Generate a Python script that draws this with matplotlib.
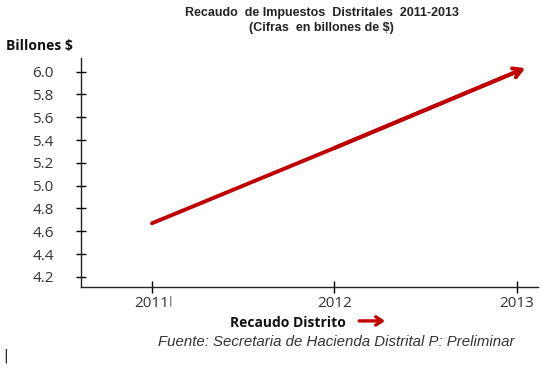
import matplotlib
matplotlib.use("Agg")
import matplotlib.pyplot as plt

years = [2011, 2012, 2013]
recaudo = [4.67, 5.33, 6.0]
yticks = [4.2, 4.4, 4.6, 4.8, 5.0, 5.2, 5.4, 5.6, 5.8, 6.0]

red = "#C00000"

fig = plt.figure(figsize=(5.5, 3.71), dpi=100)
ax = fig.add_axes([0.147, 0.226, 0.831, 0.618])

# line with open arrow head at the end
ax.plot(years, recaudo, color=red, lw=2.8, solid_capstyle="round")
ax.annotate("", xy=(years[-1] + 0.045, recaudo[-1] + 0.03), xytext=(years[-2], recaudo[-2]),
            arrowprops=dict(arrowstyle="->,head_length=0.6,head_width=0.35",
                            color=red, lw=2.8, shrinkA=0, shrinkB=0))

ax.set_xlim(2010.61, 2013.115)
ax.set_ylim(4.11, 6.12)
ax.set_xticks(years)
ax.set_xticklabels([str(y) for y in years])
ax.set_yticks(yticks)
ax.set_yticklabels([f"{v:.1f}" for v in yticks])

for s in ["top", "right"]:
    ax.spines[s].set_visible(False)
for s in ["left", "bottom"]:
    ax.spines[s].set_linewidth(1.0)
    ax.spines[s].set_color("#222222")

ax.tick_params(axis="y", direction="inout", length=7, width=1, pad=16,
               labelsize=11, labelcolor="#333333")
ax.tick_params(axis="x", direction="inout", length=9, width=1, pad=2,
               labelsize=11, labelcolor="#333333")
for lab in ax.get_xticklabels() + ax.get_yticklabels():
    lab.set_family("Open Sans")

fig.text(0.585, 0.965, "Recaudo  de Impuestos  Distritales  2011-2013",
         ha="center", va="center", fontsize=9, fontweight="bold",
         family="Liberation Sans", color="#222222")
fig.text(0.585, 0.925, "(Cifras  en billones de $)",
         ha="center", va="center", fontsize=9, fontweight="bold",
         family="Liberation Sans", color="#222222")
fig.text(0.01, 0.876, "Billones $", ha="left", va="center", fontsize=10,
         fontweight="bold", family="Open Sans", color="#111111")

fig.text(0.418, 0.13, "Recaudo Distrito", ha="left", va="center", fontsize=10,
         fontweight="bold", family="Open Sans", color="#111111")
fig.patches.append(matplotlib.patches.FancyArrowPatch(
    (0.648, 0.135), (0.705, 0.135), transform=fig.transFigure,
    arrowstyle="->,head_length=4.5,head_width=3", color=red, lw=2.4))

fig.text(0.288, 0.078, "Fuente: Secretaria de Hacienda Distrital P: Preliminar",
         ha="left", va="center", fontsize=10.8, style="italic",
         family="Liberation Sans", color="#333333")

# stray marks from the original screenshot
fig.text(0.31, 0.19, "|", ha="center", va="center", fontsize=8, color="#444444")
fig.text(0.01, 0.04, "|", ha="center", va="center", fontsize=10, color="#111111")

fig.savefig("out.png", dpi=100)
